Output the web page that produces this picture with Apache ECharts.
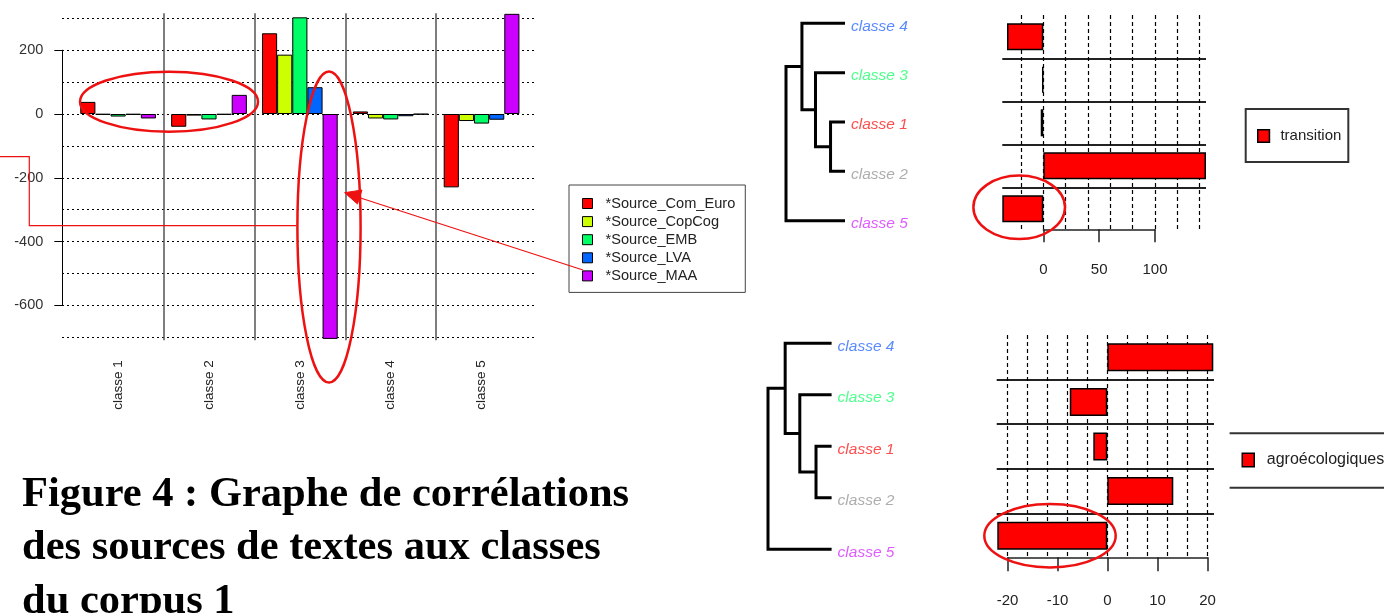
<!DOCTYPE html>
<html>
<head>
<meta charset="utf-8">
<script src="https://cdn.jsdelivr.net/npm/echarts@6/dist/echarts.min.js"></script>
<style>
html,body{margin:0;padding:0;background:#fff;}
#c{width:1384px;height:613px;}
</style>
</head>
<body>
<div id="c"></div>
<script>
// ---------- data ----------
const classes = ['classe 1', 'classe 2', 'classe 3', 'classe 4', 'classe 5'];
const sourceNames = ['*Source_Com_Euro', '*Source_CopCog', '*Source_EMB', '*Source_LVA', '*Source_MAA'];
const comEuro = [38, -40, 253, 8, -230];
const copCog = [-2, -5, 186, -14, -22];
const emb = [-8, -17, 303, -17, -30];
const lva = [-2, -2, 84, -7, -18];
const maa = [-14, 60, -705, -1, 314];
const sourceColors = ['#FF0000', '#CCFF00', '#00FF66', '#0066FF', '#CC00FF'];

const dendroLeaves = ['classe 4', 'classe 3', 'classe 1', 'classe 2', 'classe 5'];
const dendroLeafColors = ['#2f6bff', '#22ff70', '#ff1f1f', '#999999', '#d633ff'];
const dendroMerge = [[-3, -4], [-2, 1], [-1, 2], [3, -5]];
const dendroHeight = [0.245, 0.5, 0.73, 1];

const transitionValues = [-32.5, -1, -2.3, 145.6, -36.7];
const agroValues = [21.2, -7.5, -2.8, 13.2, -22];

const caption = 'Figure 4 : Graphe de corrélations\ndes sources de textes aux classes\ndu corpus 1';

// ---------- helpers ----------
const SANS = "'Liberation Sans', Arial, sans-serif";

function dendroSegments() {
  const nodeY = [], nodeH = [];
  const ref = (k) => k < 0 ? { y: -k - 1, h: 0 } : { y: nodeY[k - 1], h: nodeH[k - 1] };
  const segs = [];
  dendroMerge.forEach((m, i) => {
    const a = ref(m[0]), b = ref(m[1]);
    const h = dendroHeight[i];
    nodeY.push((a.y + b.y) / 2); nodeH.push(h);
    segs.push({ coords: [[a.h, a.y], [h, a.y], [h, b.y], [b.h, b.y]] });
  });
  return segs;
}
const leafLabelData = dendroLeaves.map((n, i) => ({ name: n, value: [0, i], label: { color: dendroLeafColors[i] } }));

const hid = { show: false };
function hiddenValue(grid, extra) {
  return Object.assign({ type: 'value', gridIndex: grid, show: false }, extra || {});
}
function linesOnly(grid, extra, lineStyle) {
  return Object.assign({
    type: 'value', gridIndex: grid, show: true,
    axisLine: hid, axisTick: hid, axisLabel: hid,
    splitLine: { show: true, lineStyle: lineStyle }
  }, extra || {});
}
const dotted = { color: '#000', width: 1.2, type: [2, 3] };
const dashed = { color: '#000', width: 1.2, type: [4, 3] };
const divider = { color: '#222', width: 2, type: 'solid' };

const barSeries = [comEuro, copCog, emb, lva, maa].map((vals, i) => ({
  type: 'bar', name: sourceNames[i], data: vals,
  xAxisIndex: 1, yAxisIndex: 1, clip: false,
  barGap: '0%', barCategoryGap: '16.667%',
  itemStyle: { color: sourceColors[i], borderColor: '#000', borderWidth: 1 },
  emphasis: { disabled: true }, animation: false
}));

const option = {
  animation: false,
  title: {
    text: caption, left: 22, top: 468, padding: 0,
    textStyle: { fontFamily: "'Liberation Serif', 'Times New Roman', serif", fontWeight: 'bold', fontSize: 42.5, lineHeight: 53.5, color: '#000' }
  },
  grid: [
    { left: 62, top: 18.3, width: 475, height: 319 },          // 0 left gridlines
    { left: 72.7, top: 18.3, width: 454.3, height: 319 },      // 1 left bars
    { left: 163.6, top: 13.3, width: 272.6, height: 327 },     // 2 separators
    { left: 62.3, top: 50.2, width: 2, height: 255.2 },        // 3 y label axis
    { left: 786, top: 23.3, width: 59, height: 197.4 },        // 4 top dendrogram
    { left: 1021, top: 15, width: 178.7, height: 215 },        // 5 top dashed lines
    { left: 1043.3, top: 200, width: 111.7, height: 29.3 },    // 6 top axis
    { left: 1002.3, top: 58.3, width: 203.7, height: 129.4 },  // 7 top dividers
    { left: 1002.3, top: 15.3, width: 203.7, height: 215 },    // 8 top bars
    { left: 768, top: 343.3, width: 63.6, height: 206 },       // 9 bottom dendrogram
    { left: 1007.5, top: 335, width: 200, height: 222.3 },     // 10 bottom lines + axis
    { left: 996.7, top: 379.6, width: 217.3, height: 133.8 },  // 11 bottom dividers
    { left: 997.3, top: 335, width: 216, height: 223 }         // 12 bottom bars
  ],
  xAxis: [
    hiddenValue(0, { min: 0, max: 1 }),
    { type: 'category', gridIndex: 1, data: classes, axisLine: hid, axisTick: hid, splitLine: hid,
      axisLabel: { rotate: 90, margin: 23, fontFamily: SANS, fontSize: 13.5, color: '#222' } },
    linesOnly(2, { min: 1, max: 4, interval: 1 }, { color: '#555', width: 1.5 }),
    hiddenValue(3, { min: 0, max: 1 }),
    hiddenValue(4, { min: 0, max: 1, inverse: true }),
    linesOnly(5, { min: -20, max: 140, interval: 20 }, dashed),
    { type: 'value', gridIndex: 6, min: 0, max: 100, interval: 50, position: 'bottom',
      axisLine: { show: true, lineStyle: { color: '#222', width: 1.5 } },
      axisTick: { show: true, length: 13, lineStyle: { color: '#222', width: 1.5 } },
      axisLabel: { margin: 33, fontFamily: SANS, fontSize: 15, color: '#222' }, splitLine: hid },
    hiddenValue(7, { min: 0, max: 1 }),
    hiddenValue(8, { min: Math.min(...transitionValues), max: Math.max(...transitionValues) }),
    hiddenValue(9, { min: 0, max: 1, inverse: true }),
    linesOnly(10, { min: -20, max: 20, interval: 4, position: 'top' }, dashed),
    { type: 'value', gridIndex: 10, min: -20, max: 20, interval: 10, position: 'bottom',
      axisLine: { show: true, lineStyle: { color: '#222', width: 1.5 } },
      axisTick: { show: true, length: 14, lineStyle: { color: '#222', width: 1.5 } },
      axisLabel: { margin: 36, fontFamily: SANS, fontSize: 15, color: '#222' }, splitLine: hid },
    hiddenValue(11, { min: 0, max: 1 }),
    hiddenValue(12, { min: Math.min(...agroValues), max: Math.max(...agroValues) })
  ],
  yAxis: [
    linesOnly(0, { min: -700, max: 300, interval: 100 }, dotted),
    hiddenValue(1, { min: -700, max: 300 }),
    hiddenValue(2, { min: 0, max: 1 }),
    { type: 'value', gridIndex: 3, min: -600, max: 200, interval: 200,
      axisLine: { show: true, lineStyle: { color: '#000', width: 1 } },
      axisTick: { show: true, length: 8, lineStyle: { color: '#000', width: 1 } },
      axisLabel: { margin: 19, fontFamily: SANS, fontSize: 14.5, color: '#333' }, splitLine: hid },
    hiddenValue(4, { min: 0, max: 4, inverse: true }),
    hiddenValue(5, { min: 0, max: 1 }),
    hiddenValue(6, { min: 0, max: 1 }),
    linesOnly(7, { min: 1, max: 4, interval: 1 }, divider),
    { type: 'category', gridIndex: 8, data: dendroLeaves, inverse: true, show: false },
    hiddenValue(9, { min: 0, max: 4, inverse: true }),
    hiddenValue(10, { min: 0, max: 1 }),
    linesOnly(11, { min: 1, max: 4, interval: 1 }, divider),
    { type: 'category', gridIndex: 12, data: dendroLeaves, inverse: true, show: false }
  ],
  legend: [
    { data: sourceNames, orient: 'vertical', left: 569, top: 185, selectedMode: false,
      borderColor: '#444', borderWidth: 1, padding: [11, 10, 9, 13],
      itemWidth: 10, itemHeight: 10, itemGap: 3.1, icon: 'rect',
      itemStyle: { borderColor: '#000', borderWidth: 1 },
      textStyle: { fontFamily: SANS, fontSize: 14.6, lineHeight: 14, color: '#222', padding: [0, 0, 0, 8] } },
    { data: ['transition'], orient: 'vertical', left: 1245.7, top: 109, selectedMode: false,
      borderColor: '#333', borderWidth: 2, padding: [17, 7, 16, 11.3],
      itemWidth: 11.7, itemHeight: 12.7, icon: 'rect',
      itemStyle: { borderColor: '#000', borderWidth: 1.5 },
      textStyle: { fontFamily: SANS, fontSize: 15, lineHeight: 20, color: '#222', padding: [0, 0, 0, 6] } },
    { data: ['agroécologiques'], orient: 'vertical', left: 1241.5, top: 450, selectedMode: false,
      padding: 0, itemWidth: 12, itemHeight: 13.4, icon: 'rect',
      itemStyle: { borderColor: '#000', borderWidth: 1.5 },
      textStyle: { fontFamily: SANS, fontSize: 16, lineHeight: 20, color: '#222', padding: [0, 0, 0, 7.5] } }
  ],
  series: barSeries.concat([
    { type: 'bar', name: 'transition', data: transitionValues, xAxisIndex: 8, yAxisIndex: 8,
      barWidth: 27, clip: false, itemStyle: { color: '#FF0000', borderColor: '#000', borderWidth: 1.5 } },
    { type: 'bar', name: 'agroécologiques', data: agroValues, xAxisIndex: 13, yAxisIndex: 12,
      barWidth: 28, clip: false, itemStyle: { color: '#FF0000', borderColor: '#000', borderWidth: 1.5 } },
    { type: 'lines', coordinateSystem: 'cartesian2d', xAxisIndex: 4, yAxisIndex: 4, polyline: true, clip: false,
      data: dendroSegments(), lineStyle: { color: '#000', width: 3, opacity: 1 }, silent: true },
    { type: 'lines', coordinateSystem: 'cartesian2d', xAxisIndex: 9, yAxisIndex: 9, polyline: true, clip: false,
      data: dendroSegments(), lineStyle: { color: '#000', width: 3, opacity: 1 }, silent: true },
    { type: 'scatter', xAxisIndex: 4, yAxisIndex: 4, symbolSize: 0, clip: false, data: leafLabelData,
      label: { show: true, position: 'right', distance: 6, offset: [0, 3], formatter: '{b}',
        fontFamily: SANS, fontStyle: 'italic', fontSize: 15.5 }, silent: true },
    { type: 'scatter', xAxisIndex: 9, yAxisIndex: 9, symbolSize: 0, clip: false, data: leafLabelData,
      label: { show: true, position: 'right', distance: 6, offset: [0, 3], formatter: '{b}',
        fontFamily: SANS, fontStyle: 'italic', fontSize: 15.5 }, silent: true }
  ]),
  graphic: [
    { type: 'ellipse', shape: { cx: 169, cy: 101.7, rx: 89, ry: 30 }, style: { fill: 'transparent', stroke: '#ee1111', lineWidth: 2.5 }, z: 100 },
    { type: 'ellipse', shape: { cx: 329, cy: 227, rx: 31.6, ry: 155.5 }, style: { fill: 'transparent', stroke: '#ee1111', lineWidth: 2.5 }, z: 100 },
    { type: 'ellipse', shape: { cx: 1019.2, cy: 207.3, rx: 45.8, ry: 31.7 }, style: { fill: 'transparent', stroke: '#ee1111', lineWidth: 2.5 }, z: 100 },
    { type: 'ellipse', shape: { cx: 1050, cy: 535.7, rx: 65.7, ry: 31.7 }, style: { fill: 'transparent', stroke: '#ee1111', lineWidth: 2.5 }, z: 100 },
    { type: 'polyline', shape: { points: [[0, 156.7], [29.3, 156.7], [29.3, 225.7], [296.4, 225.7]] }, style: { fill: null, stroke: '#ee1111', lineWidth: 1.2 }, z: 100 },
    { type: 'polyline', shape: { points: [[583, 270], [352, 195.2]] }, style: { fill: null, stroke: '#ee1111', lineWidth: 1.2 }, z: 100 },
    { type: 'polygon', shape: { points: [[344.6, 192.7], [362, 190], [357.5, 204]] }, style: { fill: '#ee1111', stroke: '#ee1111' }, z: 100 },
    { type: 'line', shape: { x1: 1229.6, y1: 433.3, x2: 1384, y2: 433.3 }, style: { stroke: '#333', lineWidth: 2 } },
    { type: 'line', shape: { x1: 1229.6, y1: 487.7, x2: 1384, y2: 487.7 }, style: { stroke: '#333', lineWidth: 2 } }
  ]
};

const chart = echarts.init(document.getElementById('c'), null, { renderer: 'canvas' });
chart.setOption(option);
</script>
</body>
</html>
